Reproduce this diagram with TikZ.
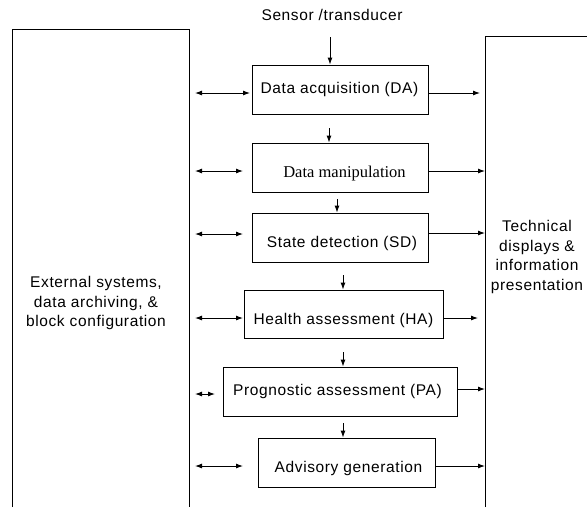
\documentclass[tikz,border=0pt]{standalone}
\usepackage{fontspec}
\setmainfont[LetterSpace=4]{Liberation Sans}
\newfontfamily\serifface{Liberation Serif}
\usetikzlibrary{arrows.meta}
\begin{document}
\begin{tikzpicture}[x=1pt,y=-1pt,
  every node/.style={font=\fontsize{15.5}{19.7}\selectfont},
  blockbox/.style={draw, line width=0.9pt, inner sep=0pt, anchor=center},
  bigbox/.style={line width=0.9pt},
  flow/.style={line width=0.9pt, -{Latex[length=7pt,width=5pt]}},
  both/.style={line width=0.9pt, {Latex[length=7pt,width=5pt]}-{Latex[length=7pt,width=5pt]}},
  txt/.style={align=center, inner sep=0pt},
  lbl/.style={inner sep=0pt, anchor=base}]
\useasboundingbox (0,0) rectangle (587,507);
% big open boxes
\draw[bigbox] (12,507) -- (12,29) -- (189,29) -- (189,507);
\draw[bigbox] (485,507) -- (485,36) -- (587,36);
\node[txt] (ext) at (96,303) {External systems,\\data archiving, \&\\block configuration};
\node[txt] (tech) at (537,257) {Technical\\displays \&\\information\\presentation};
\node[txt] (sensor) at (332,15) {Sensor /transducer};
% blocks
\node[blockbox, minimum width=176, minimum height=49] (da) at (340,89.5) {};
\node[blockbox, minimum width=176, minimum height=49] (dm) at (340,167.5) {};
\node[blockbox, minimum width=176, minimum height=49] (sd) at (340,237.5) {};
\node[blockbox, minimum width=199, minimum height=48] (ha) at (343.5,314) {};
\node[blockbox, minimum width=234, minimum height=49] (pa) at (340,391.5) {};
\node[blockbox, minimum width=177, minimum height=49] (ag) at (346.5,462.5) {};
\node[lbl] (tda) at (339.5,93) {Data acquisition (DA)};
\node[lbl] (tdm) at (344.5,177) {\serifface\fontsize{16.5}{20}\selectfont Data manipulation};
\node[lbl] (tsd) at (342,247) {State detection (SD)};
\node[lbl] (tha) at (343.5,324) {Health assessment (HA)};
\node[lbl] (tpa) at (337.5,395) {Prognostic assessment (PA)};
\node[lbl] (tag) at (348.5,472) {Advisory generation};
% vertical flow arrows
\coordinate (s0) at (330,37);
\draw[flow] (s0) -- (s0 |- da.north);
\coordinate (v1) at (329,128); \draw[flow] (v1) -- (v1 |- dm.north);
\coordinate (v2) at (337,199); \draw[flow] (v2) -- (v2 |- sd.north);
\coordinate (v3) at (343,275); \draw[flow] (v3) -- (v3 |- ha.north);
\coordinate (v4) at (343,352); \draw[flow] (v4) -- (v4 |- pa.north);
\coordinate (v5) at (343,423); \draw[flow] (v5) -- (v5 |- ag.north);
% left double arrows
\coordinate (l1) at (195,93);  \coordinate (m1) at (250,93);
\coordinate (l2) at (195,171); \coordinate (m2) at (243,171);
\coordinate (l3) at (195,234); \coordinate (m3) at (243,234);
\coordinate (l4) at (195,318); \coordinate (m4) at (243,318);
\coordinate (l5) at (195,394); \coordinate (m5) at (215,394);
\coordinate (l6) at (195,466); \coordinate (m6) at (243,466);
\draw[both] (l1) -- (m1);
\draw[both] (l2) -- (m2);
\draw[both] (l3) -- (m3);
\draw[both] (l4) -- (m4);
\draw[both] (l5) -- (m5);
\draw[both] (l6) -- (m6);
% right arrows
\coordinate (r1) at (480,93);
\coordinate (r2) at (485,171);
\coordinate (r3) at (485,233);
\coordinate (r4) at (478,318);
\coordinate (r5) at (485,389);
\coordinate (r6) at (485,466);
\draw[flow] (da.east |- r1) -- (r1);
\draw[flow] (dm.east |- r2) -- (r2);
\draw[flow] (sd.east |- r3) -- (r3);
\draw[flow] (ha.east |- r4) -- (r4);
\draw[flow] (pa.east |- r5) -- (r5);
\draw[flow] (ag.east |- r6) -- (r6);
\end{tikzpicture}
\end{document}
